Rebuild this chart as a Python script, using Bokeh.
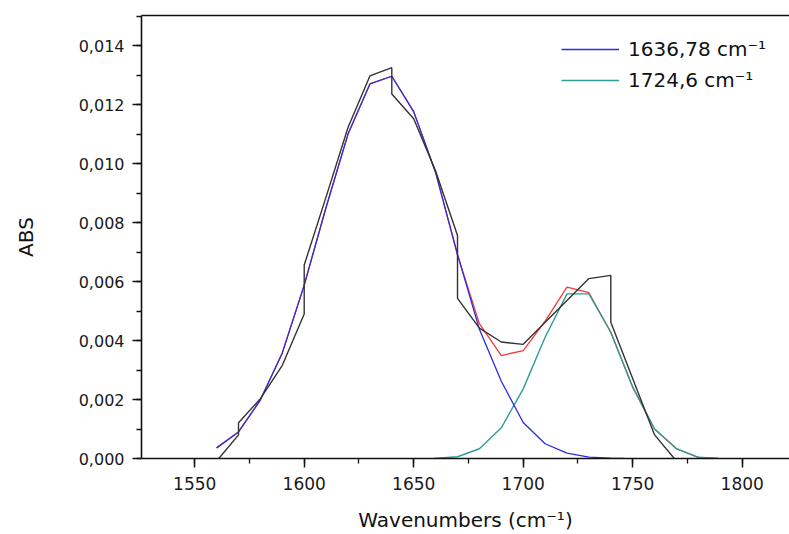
from bokeh.plotting import figure
from bokeh.models import (Range1d, SingleIntervalTicker, CustomJSTickFormatter,
                          Legend, LegendItem, LinearAxis, FixedTicker)
from bokeh.embed import file_html
from bokeh.resources import INLINE

# Experimental spectrum (black)
exp_x = [1561, 1570, 1570, 1580, 1590, 1600, 1600, 1610, 1620, 1630, 1640, 1640,
         1650, 1660, 1670, 1670, 1680, 1690, 1700, 1730, 1740, 1740, 1760, 1769]
exp_y = [0.0, 0.00080, 0.00121, 0.00203, 0.00316, 0.00490, 0.00656, 0.00887,
         0.01122, 0.01297, 0.01325, 0.01236, 0.01152, 0.00975, 0.00756, 0.00543,
         0.00442, 0.00395, 0.00387, 0.00610, 0.00621, 0.00462, 0.00080, 0.0]

# Fitted band 1636,78 cm-1 (blue)
band1_x = [1560, 1570, 1580, 1590, 1600, 1610, 1620, 1630, 1640, 1650, 1660,
           1670, 1680, 1690, 1700, 1710, 1720, 1730, 1740, 1746]
band1_y = [0.00036, 0.00090, 0.00199, 0.00358, 0.00588, 0.00852, 0.01100,
           0.01270, 0.01296, 0.01176, 0.00970, 0.00692, 0.00438, 0.00262,
           0.00122, 0.00050, 0.00018, 0.00005, 0.00001, 0.0]

# Fitted band 1724,6 cm-1 (teal)
band2_x = [1659, 1670, 1680, 1690, 1700, 1710, 1720, 1730, 1740, 1750, 1760,
           1770, 1780, 1789]
band2_y = [0.0, 0.00006, 0.00033, 0.00104, 0.00236, 0.00411, 0.00558, 0.00558,
           0.00428, 0.00242, 0.00100, 0.00033, 0.00004, 0.0]

# Cumulative fit (red)
fit_x = [1560, 1570, 1580, 1590, 1600, 1610, 1620, 1630, 1640, 1650, 1660, 1670,
         1680, 1690, 1700, 1710, 1720, 1730, 1740, 1750, 1760, 1770, 1780, 1789]
fit_y = [0.00036, 0.00090, 0.00199, 0.00358, 0.00588, 0.00852, 0.01100, 0.01270,
         0.01296, 0.01176, 0.00970, 0.00690, 0.00457, 0.00349, 0.00366, 0.00466,
         0.00581, 0.00562, 0.00428, 0.00242, 0.00100, 0.00033, 0.00004, 0.0]

legend_labels = ["1636,78 cm\u207b\u00b9", "1724,6 cm\u207b\u00b9"]
x_label = "Wavenumbers (cm\u207b\u00b9)"
y_label = "ABS"

FONT = "DejaVu Sans"

p = figure(width=789, height=534, output_backend="svg", toolbar_location=None,
           x_range=Range1d(1525.7, 1821.6), y_range=Range1d(0, 0.01502),
           x_axis_location=None, y_axis_location=None)
p.min_border_left = 141
p.min_border_right = 0
p.min_border_top = 15
p.min_border_bottom = 76
p.grid.visible = False
p.outline_line_color = None
p.background_fill_color = "white"
p.border_fill_color = "white"

xaxis = LinearAxis(ticker=SingleIntervalTicker(interval=50, num_minor_ticks=2),
                   axis_label=x_label)
yaxis = LinearAxis(ticker=SingleIntervalTicker(interval=0.002, num_minor_ticks=2),
                   axis_label=y_label,
                   formatter=CustomJSTickFormatter(code="return tick.toFixed(3).replace('.', ',');"))
topaxis = LinearAxis(ticker=FixedTicker(ticks=[], minor_ticks=[]))
for ax in (xaxis, yaxis, topaxis):
    ax.axis_line_color = "#111111"
    ax.axis_line_width = 1.6
    ax.major_tick_line_color = "#111111"
    ax.minor_tick_line_color = "#111111"
    ax.major_tick_line_width = 1.5
    ax.minor_tick_line_width = 1.3
    ax.major_tick_in = 0
    ax.minor_tick_in = 0
    ax.major_tick_out = 9
    ax.minor_tick_out = 5
    ax.major_label_text_font = FONT
    ax.major_label_text_color = "#1a1a1a"
    ax.axis_label_text_font = FONT
    ax.axis_label_text_font_style = "normal"
    ax.axis_label_text_color = "#111111"
    ax.axis_label_text_font_size = "20px"
topaxis.major_tick_out = 0
topaxis.minor_tick_out = 0
xaxis.major_label_text_font_size = "17px"
xaxis.major_label_standoff = 9
xaxis.axis_label_standoff = 15
yaxis.major_label_text_font_size = "16px"
yaxis.major_label_standoff = 8
yaxis.axis_label_standoff = 38

p.add_layout(xaxis, "below")
p.add_layout(yaxis, "left")
p.add_layout(topaxis, "above")

r_fit = p.line(fit_x, fit_y, line_color="#f03a3a", line_width=1.3)
r_b2 = p.line(band2_x, band2_y, line_color="#2f9d93", line_width=1.4)
r_b1 = p.line(band1_x, band1_y, line_color="#2b2be6", line_width=1.3)
r_exp = p.line(exp_x, exp_y, line_color="#333333", line_width=1.4)

legend = Legend(items=[LegendItem(label=legend_labels[0], renderers=[r_b1]),
                       LegendItem(label=legend_labels[1], renderers=[r_b2])],
                location=(420, 364))
legend.border_line_color = None
legend.background_fill_alpha = 0
legend.padding = 0
legend.margin = 0
legend.spacing = 3
legend.glyph_width = 58
legend.glyph_height = 28
legend.label_height = 28
legend.label_standoff = 9
legend.label_text_font = FONT
legend.label_text_font_size = "20px"
legend.label_text_color = "#111111"
p.add_layout(legend, "center")

open("out.html", "w").write(file_html(p, INLINE))
